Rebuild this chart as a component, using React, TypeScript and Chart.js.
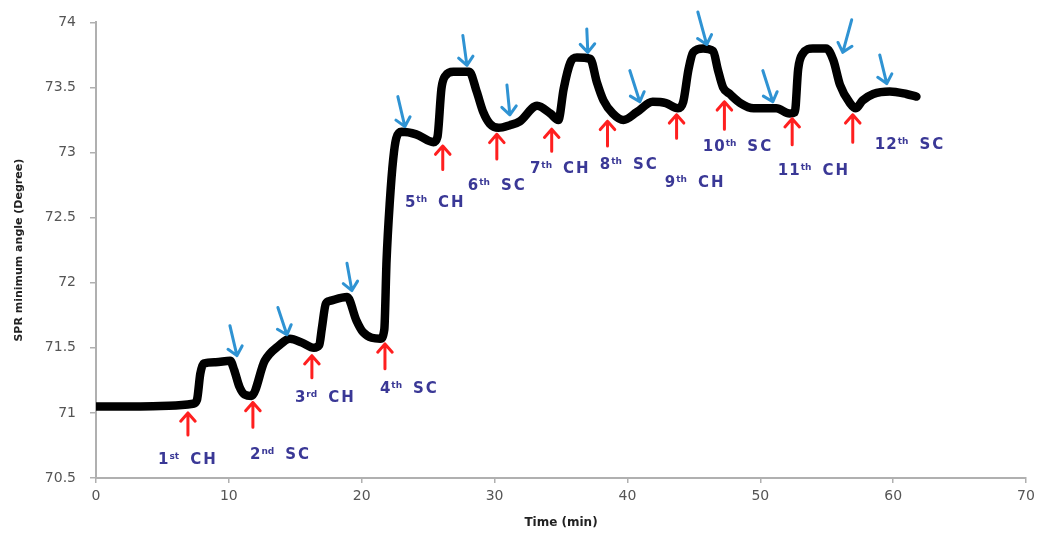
import React, { useEffect, useRef } from "react";
import { Chart, registerables } from "chart.js";

Chart.register(...registerables);

// SPR curve (time in min, angle in degree)
const times = [
  0, 3, 5.5, 7.3, 7.6, 7.85, 8.1, 9.0, 10.1, 10.4, 10.8, 11.2, 11.7, 12.7, 13.8, 14.6, 15.5, 16.4,
  16.8, 17.0, 17.3, 17.6, 18.9, 19.6, 20.1, 21.4, 21.7, 21.87, 22.12, 22.37, 22.6, 23.0, 24.1, 25.4,
  25.7, 26.0, 26.3, 26.9, 28.1, 28.65, 29.15, 29.65, 30.3, 31.15, 31.9, 33.2, 34.2, 34.8, 35.2, 35.7,
  36.2, 37.2, 37.7, 38.2, 38.9, 39.7, 40.7, 41.9, 42.9, 43.8, 44.2, 44.6, 44.95, 45.7, 46.45, 46.8,
  47.2, 47.7, 48.5, 49.5, 51.2, 52.2, 52.6, 52.85, 53.2, 53.95, 54.95, 55.5, 56.0, 56.75, 57.2, 57.7,
  58.5, 59.75, 61.0, 61.75,
];
const angles = [
  71.05, 71.05, 71.055, 71.07, 71.1, 71.3, 71.38, 71.39, 71.4, 71.33, 71.2, 71.14, 71.13, 71.4, 71.52, 71.57, 71.54, 71.5,
  71.52, 71.65, 71.84, 71.86, 71.89, 71.71, 71.62, 71.57, 71.64, 72.17, 72.63, 72.95, 73.11, 73.16, 73.14, 73.08,
  73.12, 73.49, 73.59, 73.62, 73.62, 73.47, 73.31, 73.22, 73.19, 73.21, 73.24, 73.36, 73.3, 73.25, 73.49, 73.69,
  73.73, 73.72, 73.54, 73.4, 73.3, 73.25, 73.31, 73.39, 73.38, 73.34, 73.39, 73.64, 73.77, 73.8, 73.78, 73.64,
  73.5, 73.45, 73.38, 73.34, 73.34, 73.3, 73.31, 73.64, 73.76, 73.8, 73.8, 73.71, 73.52, 73.38, 73.34, 73.4,
  73.45, 73.47, 73.45, 73.43,
];

// axis ticks
const xTickValues = [0, 10, 20, 30, 40, 50, 60, 70];
const yTickValues = [70.5, 71, 71.5, 72, 72.5, 73, 73.5, 74];

// red (upward) arrows: x, tip, tail
const redT = [6.92, 11.81, 16.25, 21.75, 26.1, 30.17, 34.3, 38.5, 43.7, 47.3, 52.4, 56.96];
const redTipV = [71.0, 71.08, 71.44, 71.53, 73.05, 73.14, 73.18, 73.24, 73.29, 73.39, 73.26, 73.29];
const redTailV = [70.83, 70.89, 71.27, 71.34, 72.87, 72.95, 73.01, 73.05, 73.11, 73.18, 73.06, 73.08];

// blue (downward) arrows: tail (x, y) -> tip (x, y)
const blueTailT = [10.08, 13.69, 18.89, 22.72, 27.61, 30.93, 36.94, 40.18, 45.3, 50.19, 56.88, 58.99];
const blueTailV = [71.67, 71.81, 72.15, 73.43, 73.9, 73.52, 73.95, 73.63, 74.08, 73.63, 74.02, 73.75];
const blueTipT = [10.61, 14.37, 19.26, 23.25, 27.92, 31.15, 37.02, 40.93, 45.97, 50.94, 56.21, 59.52];
const blueTipV = [71.44, 71.6, 71.94, 73.2, 73.67, 73.29, 73.77, 73.39, 73.83, 73.39, 73.77, 73.53];

// step labels
const labelNums = ["1", "2", "3", "4", "5", "6", "7", "8", "9", "10", "11", "12"];
const labelSups = ["st", "nd", "rd", "th", "th", "th", "th", "th", "th", "th", "th", "th"];
const labelKinds = ["CH", "SC", "CH", "SC", "CH", "SC", "CH", "SC", "CH", "SC", "CH", "SC"];
const labelT = [4.67, 11.59, 14.97, 21.37, 23.25, 27.99, 32.66, 37.92, 42.81, 45.67, 51.32, 58.62];
const labelV = [70.65, 70.69, 71.13, 71.2, 72.63, 72.76, 72.89, 72.92, 72.78, 73.06, 72.87, 73.07];

const RED = "#ff1f1f";
const BLUE = "#2f93d3";
const LABEL = "#3a3896";

function drawArrow(ctx: CanvasRenderingContext2D, x1: number, y1: number, x2: number, y2: number, color: string) {
  const ang = Math.atan2(y2 - y1, x2 - x1);
  const head = 11;
  const spread = 0.72;
  ctx.save();
  ctx.strokeStyle = color;
  ctx.lineWidth = 3;
  ctx.lineCap = "round";
  ctx.lineJoin = "round";
  ctx.beginPath();
  ctx.moveTo(x1, y1);
  ctx.lineTo(x2, y2);
  ctx.moveTo(x2 - head * Math.cos(ang - spread), y2 - head * Math.sin(ang - spread));
  ctx.lineTo(x2, y2);
  ctx.lineTo(x2 - head * Math.cos(ang + spread), y2 - head * Math.sin(ang + spread));
  ctx.stroke();
  ctx.restore();
}

const annotationPlugin = {
  id: "sprAnnotations",
  afterDatasetsDraw(chart: any) {
    const ctx: CanvasRenderingContext2D = chart.ctx;
    const xs = chart.scales.x;
    const ys = chart.scales.y;
    redT.forEach((t, i) => {
      const x = xs.getPixelForValue(t);
      drawArrow(ctx, x, ys.getPixelForValue(redTailV[i]), x, ys.getPixelForValue(redTipV[i]), RED);
    });
    blueTailT.forEach((t, i) => {
      drawArrow(
        ctx,
        xs.getPixelForValue(t),
        ys.getPixelForValue(blueTailV[i]),
        xs.getPixelForValue(blueTipT[i]),
        ys.getPixelForValue(blueTipV[i]),
        BLUE
      );
    });
    ctx.save();
    ctx.fillStyle = LABEL;
    ctx.textBaseline = "alphabetic";
    ctx.textAlign = "left";
    const c: any = ctx;
    labelNums.forEach((n, i) => {
      let x = xs.getPixelForValue(labelT[i]);
      const y = ys.getPixelForValue(labelV[i]) + 6;
      c.letterSpacing = "1px";
      ctx.font = "bold 15px 'DejaVu Sans'";
      ctx.fillText(n, x, y);
      x += ctx.measureText(n).width;
      c.letterSpacing = "0px";
      ctx.font = "bold 9px 'DejaVu Sans'";
      ctx.fillText(labelSups[i], x, y - 5);
      x += ctx.measureText(labelSups[i]).width + 11;
      c.letterSpacing = "2px";
      ctx.font = "bold 15px 'DejaVu Sans'";
      ctx.fillText(labelKinds[i], x, y);
    });
    ctx.restore();
  },
};

export default function App() {
  const ref = useRef<HTMLCanvasElement | null>(null);
  useEffect(() => {
    if (!ref.current) return;
    const chart = new Chart(ref.current, {
      type: "line",
      data: {
        datasets: [
          {
            data: times.map((t, i) => ({ x: t, y: angles[i] })),
            borderColor: "#000000",
            borderWidth: 8.5,
            pointRadius: 0,
            fill: false,
            cubicInterpolationMode: "monotone",
            borderCapStyle: "round",
            borderJoinStyle: "round",
          },
        ],
      },
      options: {
        responsive: false,
        animation: false,
        layout: { padding: { left: 0, right: 17, top: 20, bottom: 0 } },
        plugins: { legend: { display: false }, tooltip: { enabled: false } },
        scales: {
          x: {
            type: "linear",
            min: 0,
            max: 70,
            afterBuildTicks: (s: any) => {
              s.ticks = xTickValues.map((v) => ({ value: v }));
            },
            afterFit: (s: any) => {
              s.height = 55;
            },
            grid: { drawOnChartArea: false, drawTicks: true, tickLength: 5, color: "#b0b0b0", lineWidth: 1.5 },
            border: { color: "#b0b0b0", width: 2 },
            ticks: {
              padding: 5,
              color: "#555",
              font: { family: "'DejaVu Sans'", size: 14 },
              maxRotation: 0,
            },
            title: {
              display: true,
              text: "Time (min)",
              color: "#222",
              font: { family: "'DejaVu Sans'", size: 12, weight: "bold" },
              padding: { top: 0, bottom: 3 },
            },
          },
          y: {
            type: "linear",
            min: 70.5,
            max: 74,
            afterBuildTicks: (s: any) => {
              s.ticks = yTickValues.map((v) => ({ value: v }));
            },
            afterFit: (s: any) => {
              s.width = 96;
            },
            grid: { drawOnChartArea: false, drawTicks: true, tickLength: 6, color: "#b0b0b0", lineWidth: 1.5 },
            border: { color: "#b0b0b0", width: 2 },
            ticks: {
              padding: 14,
              color: "#555",
              font: { family: "'DejaVu Sans'", size: 14 },
              callback: (v: any) => String(v),
            },
            title: {
              display: true,
              text: "SPR minimum angle (Degree)",
              color: "#222",
              font: { family: "'DejaVu Sans'", size: 11, weight: "bold" },
              padding: { top: 13, bottom: 0 },
            },
          },
        },
      },
      plugins: [annotationPlugin],
    } as any);
    return () => chart.destroy();
  }, []);
  return (
    <div style={{ position: "absolute", left: 0, top: 0, width: 1043, height: 533, background: "#fff" }}>
      <canvas ref={ref} width={1043} height={533} />
    </div>
  );
}
